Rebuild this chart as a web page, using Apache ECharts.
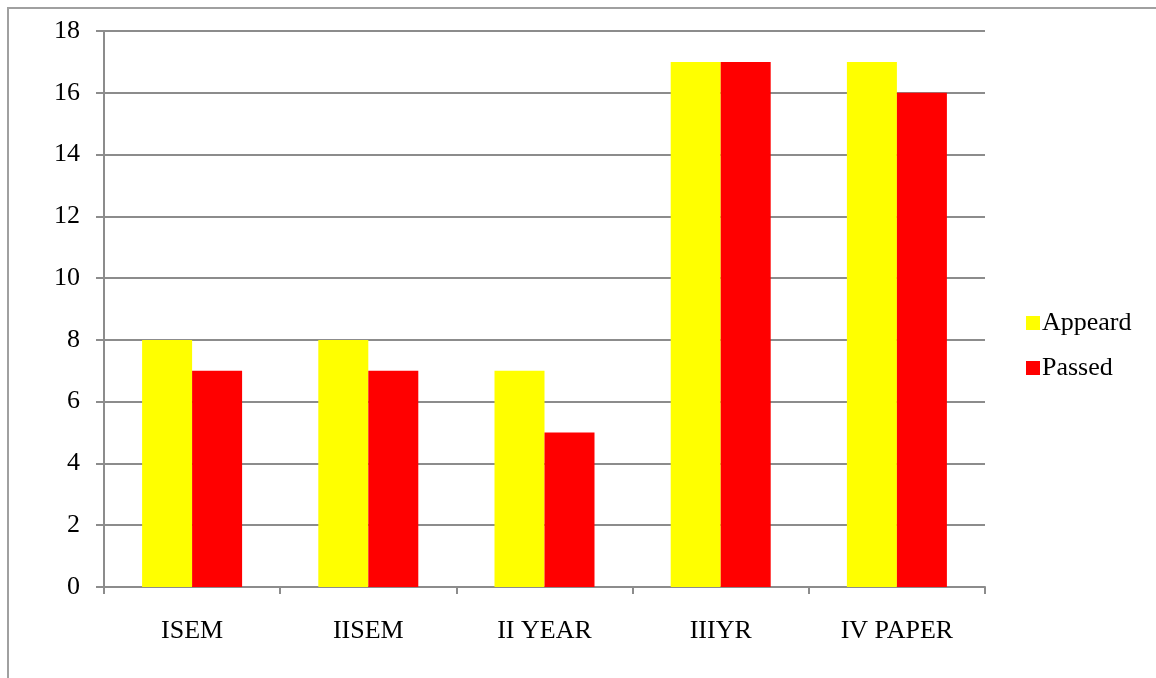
<!DOCTYPE html>
<html>
<head>
<meta charset="utf-8">
<script src="https://cdn.jsdelivr.net/npm/echarts@6/dist/echarts.min.js"></script>
<style>
  html, body { margin: 0; padding: 0; background: #fff; }
  #chart { width: 1156px; height: 678px; }
</style>
</head>
<body>
<div id="chart"></div>
<script>
const categories = ['ISEM', 'IISEM', 'II YEAR', 'IIIYR', 'IV PAPER'];
const appeard = [8, 8, 7, 17, 17];
const passed = [7, 7, 5, 17, 16];
const yTicks = { min: 0, max: 18, interval: 2 };

const font = '"Liberation Serif", "Times New Roman", serif';
const axisGray = '#8c8c8c';

const chart = echarts.init(document.getElementById('chart'), null, { renderer: 'canvas' });
chart.setOption({
  animation: false,
  backgroundColor: '#fff',
  graphic: [{
    type: 'polyline',
    shape: { points: [[8, 700], [8, 8], [1160, 8]] },
    style: { stroke: '#a0a0a0', lineWidth: 2, fill: null }
  }],
  grid: { left: 104, right: 171, top: 31, bottom: 91, containLabel: false },
  legend: {
    orient: 'vertical',
    left: 1021,
    top: 305,
    itemWidth: 14,
    itemHeight: 14,
    itemGap: 19,
    icon: 'rect',
    textStyle: { fontFamily: font, fontSize: 26, color: '#000', padding: [0, 0, 0, -3] },
    data: ['Appeard', 'Passed']
  },
  xAxis: {
    type: 'category',
    data: categories,
    axisLine: { lineStyle: { color: axisGray, width: 2 } },
    axisTick: { show: true, length: 7, lineStyle: { color: axisGray, width: 2 } },
    axisLabel: { fontFamily: font, fontSize: 26, color: '#000', margin: 31 }
  },
  yAxis: {
    type: 'value',
    min: yTicks.min,
    max: yTicks.max,
    interval: yTicks.interval,
    axisLine: { show: true, lineStyle: { color: axisGray, width: 2 } },
    axisTick: { show: true, length: 8, lineStyle: { color: axisGray, width: 2 } },
    splitLine: { lineStyle: { color: axisGray, width: 2 } },
    axisLabel: { fontFamily: font, fontSize: 26, color: '#000', margin: 24 }
  },
  series: [
    {
      name: 'Appeard', type: 'bar', data: appeard,
      barWidth: 50, barGap: '0%',
      itemStyle: { color: '#ffff00' }
    },
    {
      name: 'Passed', type: 'bar', data: passed,
      barWidth: 50, barGap: '0%',
      itemStyle: { color: '#ff0000' }
    }
  ]
});
</script>
</body>
</html>
